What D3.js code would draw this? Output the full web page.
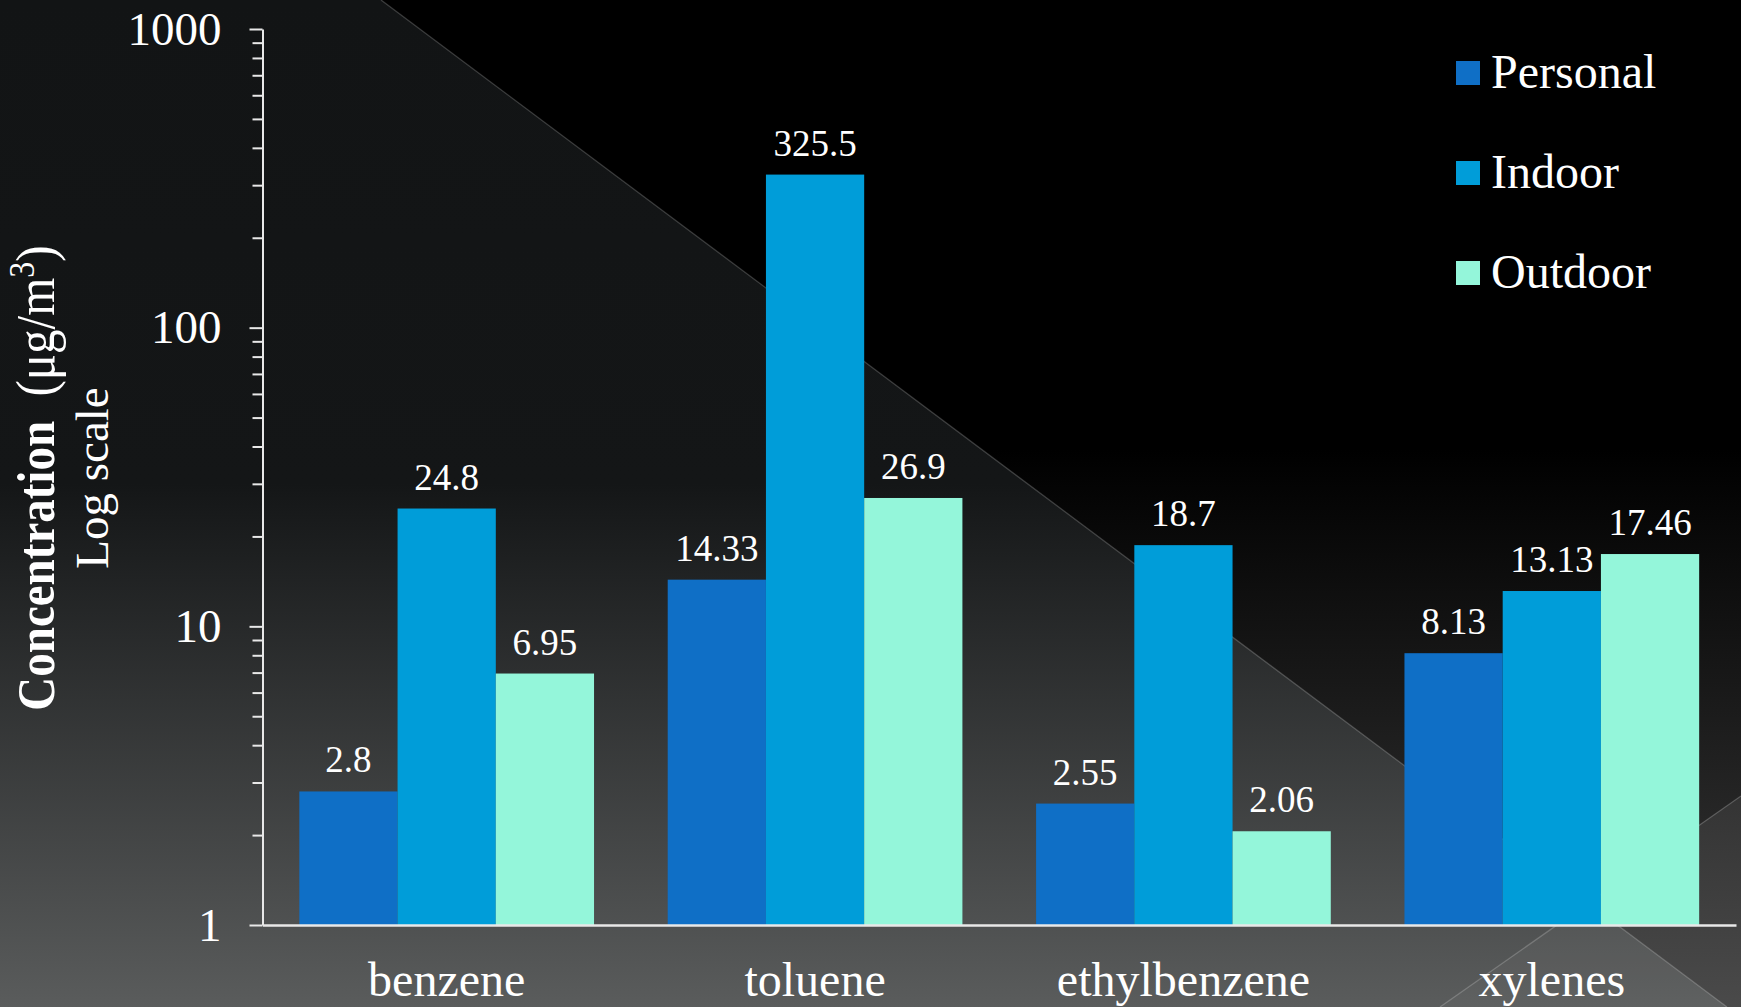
<!DOCTYPE html>
<html>
<head>
<meta charset="utf-8">
<script src="https://cdn.jsdelivr.net/npm/d3@7/dist/d3.min.js"></script>
<style>
  html, body { margin: 0; padding: 0; background: #121415; }
  svg { display: block; }
  svg text { font-family: "Liberation Serif", "Times New Roman", serif !important; fill: #ffffff; }
</style>
</head>
<body>
<svg id="chart" width="1741" height="1007"></svg>
<script>
// ---- data ----
const categories = ["benzene", "toluene", "ethylbenzene", "xylenes"];
const seriesNames = ["Personal", "Indoor", "Outdoor"];
const personal = [2.8, 14.33, 2.55, 8.13];
const indoor = [24.8, 325.5, 18.7, 13.13];
const outdoor = [6.95, 26.9, 2.06, 17.46];
const yMajorTicks = [1, 10, 100, 1000];
const yTitleMain = "Concentration";
const yTitleUnit = "(μg/m";
const yTitleLine2 = "Log scale";

// ---- setup ----
const W = 1741, H = 1007;
const FONT = '"Liberation Serif", "Times New Roman", serif';
const svg = d3.select("#chart");
const colors = ["#0f6fc6", "#009dd9", "#94f6da"];
const seriesValues = [personal, indoor, outdoor];

// ---- background ----
const defs = svg.append("defs");
function lg(id, y1, y2, stops) {
  const g = defs.append("linearGradient").attr("id", id)
    .attr("gradientUnits", "userSpaceOnUse")
    .attr("x1", 0).attr("x2", 0).attr("y1", y1).attr("y2", y2);
  stops.forEach(s => g.append("stop").attr("offset", s[0]).attr("stop-color", s[1]));
}
lg("bg1", 0, H, [[0, "#121415"], [0.48, "#141617"], [1, "#5a5c5c"]]);
lg("bg2", 450, H, [[0, "#000000"], [1, "#3a3a3a"]]);
lg("bg4", 780, H, [[0, "#323232"], [1, "#4a4a4a"]]);

const bg = svg.append("g");
bg.append("rect").attr("width", W).attr("height", H).attr("fill", "url(#bg1)");
bg.append("path").attr("d", "M381,0 L1741,0 L1741,796 L1588,903 Z").attr("fill", "url(#bg2)");
bg.append("path").attr("d", "M1588,903 L1741,796 L1741,1007 L1727,1007 Z").attr("fill", "url(#bg4)");
bg.append("path").attr("d", "M1588,903 L1727,1007 L1440,1007 Z").attr("fill", "#ffffff").attr("fill-opacity", 0.035);
bg.append("path").attr("d", "M381,0 L1727,1007").attr("stroke", "#ffffff").attr("stroke-opacity", 0.2).attr("stroke-width", 1.3).attr("fill", "none");
bg.append("path").attr("d", "M1440,1007 L1741,796").attr("stroke", "#ffffff").attr("stroke-opacity", 0.2).attr("stroke-width", 1.3).attr("fill", "none");

// ---- scales ----
const x = d3.scaleBand().domain(categories).range([262.5, 1736]).paddingInner(0.2).paddingOuter(0.1);
const xs = d3.scaleBand().domain(seriesNames).range([0, x.bandwidth()]);
const y = d3.scaleLog().domain([1, 1000]).range([925, 29]);

// ---- bars ----
const rows = [];
categories.forEach((c, i) => seriesNames.forEach((s, j) => rows.push({ c, s, j, v: seriesValues[j][i] })));

const gBars = svg.append("g");
gBars.selectAll("rect").data(rows).join("rect")
  .attr("x", d => x(d.c) + xs(d.s))
  .attr("y", d => y(d.v))
  .attr("width", xs.bandwidth())
  .attr("height", d => y(1) - y(d.v))
  .attr("fill", d => colors[d.j]);

gBars.selectAll("text").data(rows).join("text")
  .attr("x", d => x(d.c) + xs(d.s) + xs.bandwidth() / 2)
  .attr("y", d => y(d.v) - 19)
  .attr("text-anchor", "middle")
  .style("font-family", FONT)
  .attr("font-size", 37)
  .text(d => String(d.v));

// ---- axes ----
const axisX = 262.5;
const gyMinor = svg.append("g").attr("transform", `translate(${axisX},0)`)
  .call(d3.axisLeft(y).tickValues(y.ticks().filter(t => !yMajorTicks.includes(t))).tickSize(10).tickSizeOuter(0).tickFormat(""));
gyMinor.select(".domain").remove();
gyMinor.selectAll("line").attr("stroke", "#e8e8e8").attr("stroke-width", 2);

const gy = svg.append("g").attr("transform", `translate(${axisX},0)`)
  .call(d3.axisLeft(y).tickValues(yMajorTicks).tickSize(13).tickSizeOuter(0).tickPadding(28).tickFormat(d3.format("d")));
gy.attr("font-family", null);
gy.select(".domain").attr("stroke", "#e8e8e8").attr("stroke-width", 2);
gy.selectAll("line").attr("stroke", "#e8e8e8").attr("stroke-width", 2);
gy.selectAll("text").attr("font-size", 47).style("font-family", FONT).attr("fill", "#fff");

const gx = svg.append("g").attr("transform", `translate(0,${y(1)})`)
  .call(d3.axisBottom(x).tickSize(0).tickSizeOuter(0));
gx.attr("font-family", null);
gx.select(".domain").attr("stroke", "#e8e8e8").attr("stroke-width", 2.5);
gx.selectAll("text").attr("font-size", 48).attr("y", 71).attr("dy", 0)
  .style("font-family", FONT).attr("fill", "#fff");

// ---- y title ----
const t1 = svg.append("text")
  .attr("transform", "translate(54,478) rotate(-90) scale(1,1.12)")
  .attr("text-anchor", "middle")
  .attr("font-size", 49)
  .style("font-family", FONT)
  .style("white-space", "pre");
t1.append("tspan").attr("font-weight", "bold").attr("font-size", 47).text(yTitleMain);
t1.append("tspan").text("  " + yTitleUnit);
t1.append("tspan").attr("font-size", 32).attr("dy", -18).text("3");
t1.append("tspan").attr("dy", 18).text(")");

svg.append("text")
  .attr("transform", "translate(108,478) rotate(-90)")
  .attr("text-anchor", "middle")
  .attr("font-size", 47)
  .style("font-family", FONT)
  .text(yTitleLine2);

// ---- legend ----
const gl = svg.append("g");
seriesNames.forEach((s, j) => {
  gl.append("rect").attr("x", 1456).attr("y", 61 + j * 100).attr("width", 24).attr("height", 24).attr("fill", colors[j]);
  gl.append("text").attr("x", 1491).attr("y", 88 + j * 100).attr("font-size", 48)
    .style("font-family", FONT).text(s);
});
</script>
</body>
</html>
